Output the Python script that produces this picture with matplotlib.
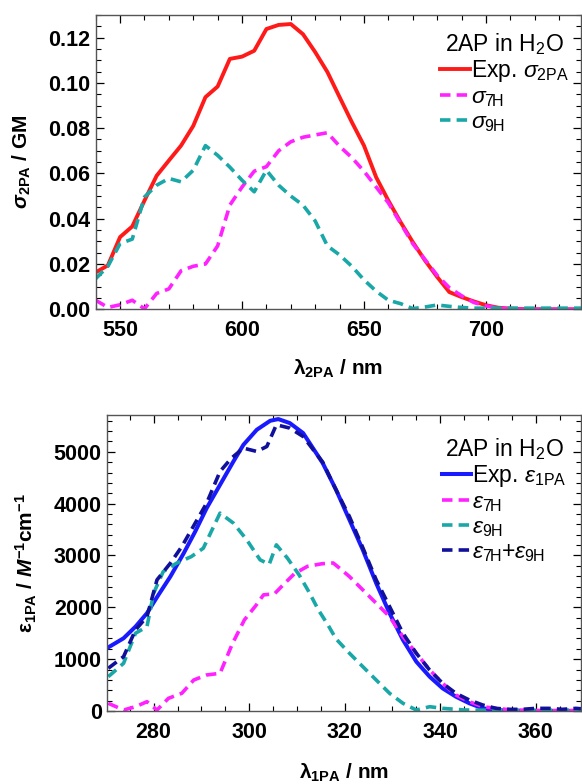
import numpy as np
import matplotlib
matplotlib.use('Agg')
import matplotlib.pyplot as plt
from matplotlib.ticker import MultipleLocator, FormatStrFormatter

plt.rcParams['font.family'] = ['Liberation Sans', 'DejaVu Sans']
plt.rcParams['mathtext.fontset'] = 'custom'
plt.rcParams['mathtext.rm'] = 'Liberation Sans'
plt.rcParams['mathtext.it'] = 'Liberation Sans:italic'
plt.rcParams['mathtext.bf'] = 'Liberation Sans:bold'
plt.rcParams['mathtext.bfit'] = 'Liberation Sans:bold:italic'
plt.rcParams['mathtext.sf'] = 'Liberation Sans'

# ---- top panel: 2PA cross sections (GM) vs 2PA wavelength (nm)
wl_2pa = [540, 545, 550, 555, 560, 565, 570, 575, 580, 585,
          590, 595, 600, 605, 610, 615, 620, 625, 630, 635,
          640, 645, 650, 655, 660, 665, 670, 675, 680, 685,
          690, 695, 700, 705, 710, 715, 720, 725, 730, 735, 740]
sig_exp = [0.0163, 0.0194, 0.0319, 0.0366, 0.048, 0.059, 0.0657, 0.0723, 0.081, 0.0937,
           0.0984, 0.1106, 0.1116, 0.1142, 0.1238, 0.1256, 0.1260, 0.1215, 0.1136, 0.1048,
           0.0937, 0.0827, 0.0723, 0.0583, 0.048, 0.0385, 0.0297, 0.0216, 0.0143, 0.0076,
           0.0054, 0.0035, 0.0018, 0.0007, 0.0003, 0.0001, 0.0, 0.0, 0.0, 0.0, 0.0]
sig_7h = [0.004, 0.0008, 0.002, 0.004, 0.0002, 0.007, 0.009, 0.017, 0.019, 0.020,
          0.028, 0.046, 0.054, 0.061, 0.063, 0.070, 0.074, 0.076, 0.077, 0.078,
          0.072, 0.067, 0.061, 0.054, 0.047, 0.038, 0.029, 0.022, 0.015, 0.0095,
          0.006, 0.003, 0.0015, 0.0005, 0.0002, 0.0, 0.0, 0.0, 0.0, 0.0, 0.0]
sig_9h = [0.0135, 0.019, 0.029, 0.031, 0.0496, 0.0548, 0.0578, 0.0563, 0.0614, 0.0723,
          0.068, 0.0628, 0.057, 0.0519, 0.0614, 0.0548, 0.050, 0.046, 0.039, 0.028,
          0.024, 0.019, 0.013, 0.008, 0.004, 0.0025, 0.0003, 0.001, 0.0019, 0.0013,
          0.0008, 0.0005, 0.0005, 0.0005, 0.0005, 0.0005, 0.0005, 0.0005, 0.0005, 0.0005, 0.0005]

# ---- bottom panel: 1PA extinction (M^-1 cm^-1) vs 1PA wavelength (nm)
wl_exp = [270, 273.7, 276.2, 278.6, 281, 283.5, 286.3, 288.7, 291.1, 293.9,
          296.7, 298.8, 301.6, 304.4, 306.1, 308.5, 311.3, 315.4, 318.2, 321,
          323.8, 326.6, 329.4, 332.2, 335, 337.8, 340.5, 343.3, 346.1, 348.9,
          351.7, 355, 360, 365, 370]
eps_exp = [1200, 1403, 1627, 1886, 2239, 2593, 3044, 3461, 3913, 4363,
           4813, 5135, 5425, 5598, 5631, 5554, 5361, 4782, 4266, 3687,
           3108, 2465, 1886, 1371, 952, 662, 438, 276, 149, 52,
           19, 5, 0, 0, 0]

wl_7h = [270.5, 273.7, 276.2, 278.6, 280.7, 283.1, 285.9, 288.4, 291.1, 293.9,
         296.5, 299, 301.5, 303, 305.3, 307.3, 309.5, 312.2, 315.2, 317.6,
         319, 321, 323.8, 326.6, 329.4, 332.2, 335, 337.8, 340.5, 343.3,
         346.1, 348.9, 351.7, 355, 360, 370]
eps_7h = [149, 19, 83, 180, 19, 245, 342, 598, 695, 727,
          1300, 1757, 2046, 2240, 2260, 2450, 2650, 2790, 2840, 2855,
          2750, 2593, 2336, 2079, 1820, 1434, 1114, 792, 535, 309,
          180, 83, 52, 20, 10, 10]

wl_9h = [270.5, 273.7, 276.2, 278.6, 280, 282, 284.8, 287.9, 290.4, 293.9,
         296.7, 299.5, 302.3, 304.2, 305.7, 308, 310.5, 312.5, 314.5, 316.5,
         318.2, 321, 323.8, 326.6, 329.4, 332.2, 335, 337.8, 340.5, 345,
         350, 360, 370]
eps_9h = [662, 920, 1500, 1627, 2272, 2689, 2851, 2979, 3140, 3817,
          3624, 3301, 2915, 2830, 3205, 2950, 2620, 2300, 1950, 1660,
          1390, 1114, 855, 598, 342, 149, 19, 83, 52, 20,
          15, 15, 20]

wl_sum = [270.5, 273.7, 276.2, 278.6, 280.7, 283.5, 285.9, 288.7, 291.1, 293.9,
          296.3, 298.8, 301.6, 303.7, 305.7, 308.5, 311.3, 315.4, 318, 321,
          323.8, 326.6, 329.4, 332.2, 335, 337.8, 340.5, 343.3, 346.1, 348.9,
          351.7, 354.5, 357.2, 360, 362.8, 365.6, 368.4, 370]
eps_sum = [824, 1048, 1564, 1820, 2529, 2851, 3172, 3624, 4010, 4620,
           4878, 5071, 5006, 5102, 5521, 5457, 5295, 4800, 4300, 3750,
           3150, 2530, 2015, 1500, 1114, 790, 535, 341, 212, 116,
           51, 32, 32, 51, 51, 32, 51, 40]

RED = '#ff1a1a'
MAG = '#ff22ff'
TEAL = '#1aa7a7'
BLUE = '#1a1aff'
NAVY = '#10109a'
LW = 2.6
DASH = (2.9, 1.7)
TICKFS = 15.5
LABFS = 15
LEGFS = 16.5

fig = plt.figure(figsize=(5.82, 7.84), dpi=100)
ax1 = fig.add_axes([0.1644, 0.6055, 0.834, 0.3754])
ax2 = fig.add_axes([0.1844, 0.0931, 0.814, 0.3776])


def style_axes(ax):
    ax.tick_params(which='both', direction='in', top=True, right=True)
    ax.tick_params(which='major', length=6, width=0.9, labelsize=TICKFS)
    ax.tick_params(which='minor', length=3.5, width=0.8)
    ax.tick_params(axis='x', which='major', pad=8)
    ax.tick_params(axis='y', which='major', pad=4)
    for lab in ax.get_xticklabels() + ax.get_yticklabels():
        lab.set_fontweight('bold')
    for sp in ax.spines.values():
        sp.set_color('#555555')
        sp.set_linewidth(1.0)


# top
ax1.plot(wl_2pa, sig_exp, color=RED, lw=LW + 0.2, label=r'Exp. $\sigma_{\rm 2PA}$')
ax1.plot(wl_2pa, sig_7h, color=MAG, lw=LW, dashes=DASH, label=r'$\sigma_{\rm 7H}$')
ax1.plot(wl_2pa, sig_9h, color=TEAL, lw=LW, dashes=DASH, label=r'$\sigma_{\rm 9H}$')
ax1.set_xlim(540, 739)
ax1.set_ylim(0, 0.13)
ax1.xaxis.set_major_locator(MultipleLocator(50))
ax1.xaxis.set_minor_locator(MultipleLocator(10))
ax1.yaxis.set_major_locator(MultipleLocator(0.02))
ax1.yaxis.set_minor_locator(MultipleLocator(0.005))
ax1.yaxis.set_major_formatter(FormatStrFormatter('%.2f'))
style_axes(ax1)
ax1.set_xlabel(r'$\boldsymbol{\lambda}_{\mathbf{2PA}}$ / nm', fontsize=LABFS, fontweight='bold')
ax1.set_ylabel(r'$\boldsymbol{\sigma}_{\mathbf{2PA}}$ / GM', fontsize=LABFS, fontweight='bold')
ax1.xaxis.set_label_coords(0.5, -0.165)
ax1.yaxis.set_label_coords(-0.13, 0.5)
ax1.legend(loc='upper right', bbox_to_anchor=(0.975, 0.945), frameon=False,
           title=r'2AP in H$_2$O', fontsize=LEGFS, title_fontsize=LEGFS,
           handlelength=1.3, handletextpad=0.05, labelspacing=0.05,
           borderaxespad=0, borderpad=0)

# bottom
ax2.plot(wl_exp, eps_exp, color=BLUE, lw=LW + 0.3, label=r'Exp. $\varepsilon_{\rm 1PA}$')
ax2.plot(wl_7h, eps_7h, color=MAG, lw=LW, dashes=DASH, label=r'$\varepsilon_{\rm 7H}$')
ax2.plot(wl_9h, eps_9h, color=TEAL, lw=LW, dashes=DASH, label=r'$\varepsilon_{\rm 9H}$')
ax2.plot(wl_sum, eps_sum, color=NAVY, lw=LW, dashes=DASH,
         label=r'$\varepsilon_{\rm 7H}$+$\varepsilon_{\rm 9H}$')
ax2.set_xlim(270.3, 369.5)
ax2.set_ylim(0, 5710)
ax2.xaxis.set_major_locator(MultipleLocator(20))
ax2.xaxis.set_minor_locator(MultipleLocator(5))
ax2.yaxis.set_major_locator(MultipleLocator(1000))
ax2.yaxis.set_minor_locator(MultipleLocator(200))
style_axes(ax2)
ax2.set_xlabel(r'$\boldsymbol{\lambda}_{\mathbf{1PA}}$ / nm', fontsize=LABFS, fontweight='bold')
ax2.set_ylabel(r'$\boldsymbol{\varepsilon}_{\mathbf{1PA}}$ / $\boldsymbol{M}^{\mathbf{-1}}\mathbf{cm}^{\mathbf{-1}}$',
               fontsize=LABFS, fontweight='bold')
ax2.xaxis.set_label_coords(0.5, -0.172)
ax2.yaxis.set_label_coords(-0.145, 0.5)
ax2.legend(loc='upper right', bbox_to_anchor=(0.97, 0.93), frameon=False,
           title=r'2AP in H$_2$O', fontsize=LEGFS, title_fontsize=LEGFS,
           handlelength=1.3, handletextpad=0.05, labelspacing=0.05,
           borderaxespad=0, borderpad=0)

fig.savefig('out.png', dpi=100)
